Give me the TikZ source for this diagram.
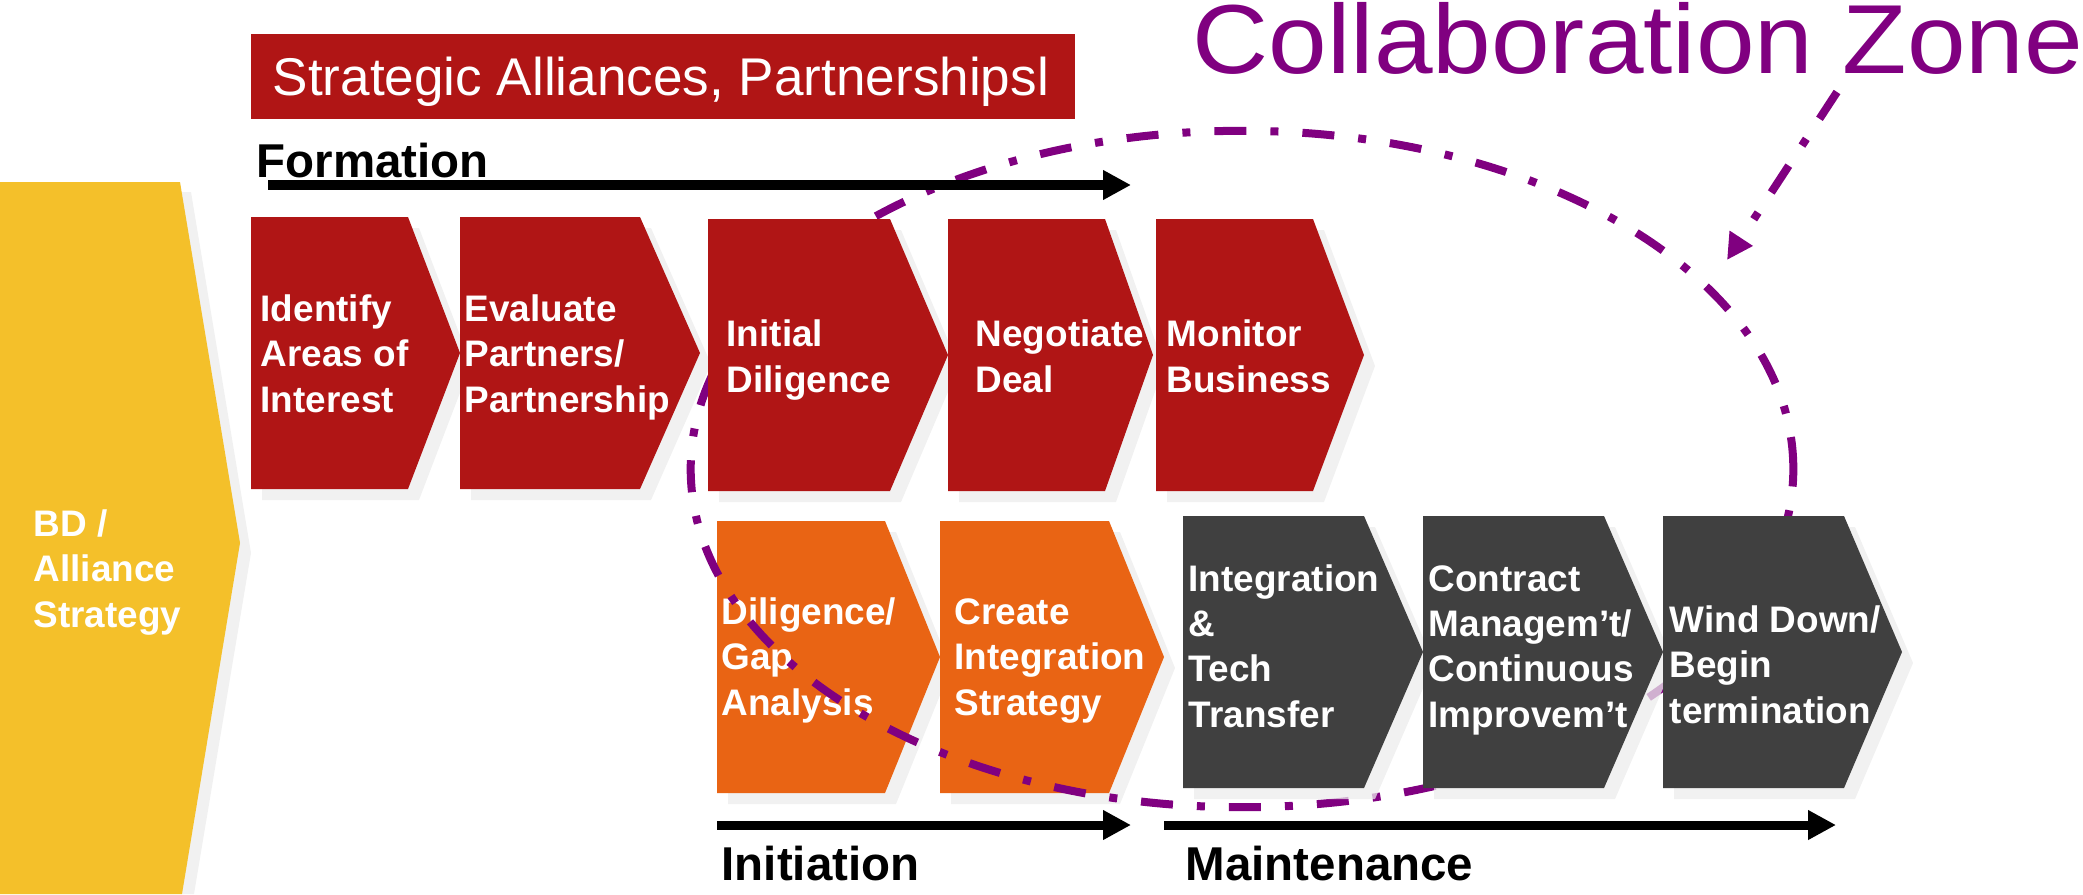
\documentclass[tikz,border=0pt]{standalone}
\usepackage{fontspec}
\setmainfont{Liberation Sans}
\usepackage{xcolor}
\usetikzlibrary{arrows.meta}

\definecolor{stagered}{RGB}{176,21,21}
\definecolor{stageorange}{RGB}{233,100,20}
\definecolor{stagegrey}{RGB}{64,64,64}
\definecolor{bdyellow}{RGB}{244,192,42}
\definecolor{zonepurple}{RGB}{128,0,128}
\definecolor{shadowgrey}{RGB}{236,236,236}

\tikzstyle{boxshadow} = [fill=shadowgrey,fill opacity=0.75]
\tikzstyle{stagetext} = [text=white,font=\bfseries\fontsize{10.5pt}{12.8pt}\selectfont,align=left,anchor=base west,inner sep=0pt]
\tikzstyle{phase} = [font=\bfseries\fontsize{13.5pt}{16pt}\selectfont,anchor=base west,inner sep=0pt]
\tikzstyle{phasearrow} = [line width=0.9mm,-{Triangle[length=2.8mm,width=2.8mm]}]
\tikzstyle{zone} = [zonepurple,line width=0.8mm,dash pattern=on 3.2mm off 2.4mm on 0.8mm off 2.4mm]

% chevron: left, body right, tip, top, bottom
\newcommand{\chevshadow}[5]{%
  \fill[boxshadow] (#1+11,#4+11) -- (#2+11,#4+11) -- (#3+11,{(#4+#5)/2+11}) -- (#2+11,#5+11) -- (#1+11,#5+11) -- cycle;
}
\newcommand{\chevron}[6]{%
  \fill[#1] (#2,#5) -- (#3,#5) -- (#4,{(#5+#6)/2}) -- (#3,#6) -- (#2,#6) -- cycle;
}

\begin{document}
\begin{tikzpicture}[x=0.01cm,y=-0.01cm]
    \useasboundingbox (0,0) rectangle (2083,894);

    % strategy block on the left
    \fill[boxshadow] (10,192) -- (191,192) -- (251,553) -- (194,894) -- (10,894) -- cycle;
    \fill[bdyellow] (0,182) -- (180,182) -- (240,543) -- (182,894) -- (0,894) -- cycle;
    \node[stagetext] (bd) at (33,627) {BD /\\Alliance\\Strategy};

    % initiation stages
    \foreach \l/\r/\t in {717/885/940, 940/1109/1164}{
      \chevshadow{\l}{\r}{\t}{521}{793}
    }
    \foreach \l/\r/\t in {717/885/940, 940/1109/1164}{
      \chevron{stageorange}{\l}{\r}{\t}{521}{793}
    }
    \node[stagetext] (dil) at (721,715) {Diligence/\\Gap\\Analysis};
    \node[stagetext] (cis) at (954,715) {Create\\Integration\\Strategy};

    \draw[zone] (1242,469) ellipse [x radius=5.51cm, y radius=3.38cm];

    % formation and maintenance stages
    \foreach \l/\r/\t/\u/\b in {251/408/460/217/489, 460/640/700/217/489, 708/890/948/219/491,
                                948/1105/1153/219/491, 1156/1313/1364/219/491,
                                1183/1364/1423/516/788, 1423/1604/1663/516/788, 1663/1844/1902/516/788}{
      \chevshadow{\l}{\r}{\t}{\u}{\b}
    }
    \foreach \l/\r/\t in {251/408/460, 460/640/700}{
      \chevron{stagered}{\l}{\r}{\t}{217}{489}
    }
    \foreach \l/\r/\t in {708/890/948, 948/1105/1153, 1156/1313/1364}{
      \chevron{stagered}{\l}{\r}{\t}{219}{491}
    }
    \foreach \l/\r/\t in {1183/1364/1423, 1423/1604/1663, 1663/1844/1902}{
      \chevron{stagegrey}{\l}{\r}{\t}{516}{788}
    }

    \node[stagetext] (ident) at (260,412) {Identify\\Areas of\\Interest};
    \node[stagetext] (eval) at (464,412) {Evaluate\\Partners/\\Partnership};
    \node[stagetext] (init) at (726,392) {Initial\\Diligence};
    \node[stagetext] (nego) at (975,392) {Negotiate\\Deal};
    \node[stagetext] (moni) at (1166,392) {Monitor\\Business};
    \node[stagetext] (integ) at (1188,727) {Integration\\\&\\Tech\\Transfer};
    \node[stagetext] (contr) at (1428,727) {Contract\\Managem’t/\\Continuous\\Improvem’t};
    \node[stagetext] (wind) at (1669,723) {Wind Down/\\Begin\\termination};

    % heading
    \fill[stagered] (251,34) rectangle (1075,119);
    \node[text=white,font=\fontsize{15.1pt}{18pt}\selectfont,anchor=base west,inner sep=0pt] (title) at (272,96) {Strategic Alliances, Partnershipsl};

    % phases
    \coordinate (fstart) at (268,185);
    \coordinate (fend) at (1131,185);
    \coordinate (istart) at (717,825);
    \coordinate (iend) at (1131,825);
    \coordinate (mstart) at (1164,825);
    \coordinate (mend) at (1836,825);
    \draw[phasearrow] (fstart) -- (fend);
    \draw[phasearrow] (istart) -- (iend);
    \draw[phasearrow] (mstart) -- (mend);
    \node[phase] (form) at (256,177) {Formation};
    \node[phase] (initn) at (721,880) {Initiation};
    \node[phase] (maint) at (1185,880) {Maintenance};

    % collaboration zone label
    \node[text=zonepurple,font=\fontsize{27.9pt}{32pt}\selectfont,anchor=base west,inner sep=0pt] (zonelbl) at (1192,74) {\scalebox{1.074}[1]{Collaboration Zone}};
    \coordinate (zfrom) at (1837,92);
    \coordinate (zto) at (1727,260);
    \draw[zone,-{Triangle[length=2.6mm,width=2.6mm]}] (zfrom) -- (zto);
\end{tikzpicture}
\end{document}
